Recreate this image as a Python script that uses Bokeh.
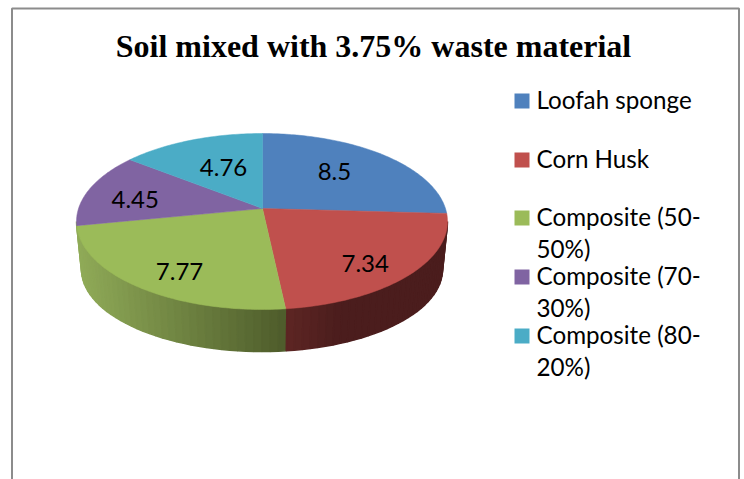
import math
from bokeh.plotting import figure
from bokeh.models import Range1d
from bokeh.core.properties import value
from bokeh.embed import file_html
from bokeh.resources import INLINE

title = "Soil mixed with 3.75% waste material"
categories = ["Loofah sponge", "Corn Husk", "Composite (50-50%)", "Composite (70-30%)", "Composite (80-20%)"]
legend_lines = [["Loofah sponge"], ["Corn Husk"], ["Composite (50-", "50%)"], ["Composite (70-", "30%)"], ["Composite (80-", "20%)"]]
values = [8.5, 7.34, 7.77, 4.45, 4.76]
colors = ["#4F81BD", "#C0504D", "#9BBB59", "#8064A2", "#4BACC6"]

# layout (page pixels)
AX, AY = 262, 208        # apex of the pie
CX, CY, RX, RY = 261.5, 221, 185.5, 88   # rim of top face
BX, BY, BRX, BRY = 261.5, 269, 180.5, 82  # rim of bottom face
K = 88
LABEL_K = 80
LABEL_SHIFT = [(-9, -4), (22, 22), (-17, 24), (-19, 2), (10, 2)]
LEGEND_Y = [100.5, 159.5, 217.5, 276.5, 335.5]
TEXT_DY = -1.5
LINE_H = 32

p = figure(width=744, height=479, output_backend="svg", toolbar_location=None,
           x_range=Range1d(0, 744), y_range=Range1d(479, 0), min_border=0,
           x_axis_type=None, y_axis_type=None, outline_line_color=None)
p.grid.visible = False
p.background_fill_color = "white"
p.border_fill_color = "white"


def rim(t):
    dx, dy = RX * math.sin(t), -K * math.cos(t)
    ox, oy = AX - CX, AY - CY
    a = (dx / RX) ** 2 + (dy / RY) ** 2
    b = 2 * (ox * dx / RX ** 2 + oy * dy / RY ** 2)
    c = (ox / RX) ** 2 + (oy / RY) ** 2 - 1
    s = (-b + math.sqrt(b * b - 4 * a * c)) / (2 * a)
    return AX + s * dx, AY + s * dy


def mix(c1, c2, f):
    v = [round(c1[i] + (c2[i] - c1[i]) * f) for i in range(3)]
    return "#%02x%02x%02x" % tuple(v)


total = sum(values)
cum = [0]
for v in values:
    cum.append(cum[-1] + v)
ang = [2 * math.pi * c / total for c in cum]

# side wall
split_x = rim(ang[2])[0]
xs, ys, cs = [], [], []
N = 70
for i in range(N):
    u0, u1 = math.pi * i / N, math.pi * (i + 1) / N
    x0, x1 = CX - RX * math.cos(u0), CX - RX * math.cos(u1)
    xs.append([x0, x1, BX - BRX * math.cos(u1), BX - BRX * math.cos(u0)])
    ys.append([CY + RY * math.sin(u0), CY + RY * math.sin(u1), BY + BRY * math.sin(u1), BY + BRY * math.sin(u0)])
    m = (x0 + x1) / 2
    if m < split_x:
        cs.append(mix((0x90, 0xAB, 0x58), (0x4E, 0x5C, 0x2B), (m - (CX - RX)) / (split_x - (CX - RX))))
    else:
        cs.append(mix((0x5E, 0x26, 0x24), (0x4B, 0x1D, 0x1D), min(1, (m - split_x) / 55)))
p.patches(xs, ys, fill_color=cs, line_color=cs, line_width=1.5)

# top face
for i, col in enumerate(colors):
    n = max(2, int((ang[i + 1] - ang[i]) * 60))
    pts = [rim(ang[i] + (ang[i + 1] - ang[i]) * j / n) for j in range(n + 1)]
    p.patch([AX] + [q[0] for q in pts], [AY] + [q[1] for q in pts],
            fill_color=col, line_color=col, line_width=0.5)

# data labels
for i, v in enumerate(values):
    t = (ang[i] + ang[i + 1]) / 2
    p.text([AX + 0.6 * RX * math.sin(t) + LABEL_SHIFT[i][0]], [AY - 0.6 * LABEL_K * math.cos(t) + LABEL_SHIFT[i][1]],
           text=[str(v)], text_font=value("Lato"), text_font_size="24px", text_color="black",
           text_align="center", text_baseline="middle")

# title
p.text([373], [45], text=[title], text_font=value("Liberation Serif"), text_font_style="bold",
       text_font_size="32px", text_color="black", text_align="center", text_baseline="middle")

# legend
for i, lines in enumerate(legend_lines):
    p.rect([521.5], [LEGEND_Y[i]], width=15, height=15, fill_color=colors[i], line_color=None)
    for j, line in enumerate(lines):
        p.text([536], [LEGEND_Y[i] + j * LINE_H + TEXT_DY], text=[line], text_font=value("Lato"),
               text_font_size="24.2px", text_color="black", text_align="left", text_baseline="middle")

# chart frame
p.multi_line([[11.5, 11.5, 738.5, 738.5]], [[482, 8, 8, 482]], line_color="#8c8c8c", line_width=2)

open("out.html", "w").write(file_html(p, INLINE))
